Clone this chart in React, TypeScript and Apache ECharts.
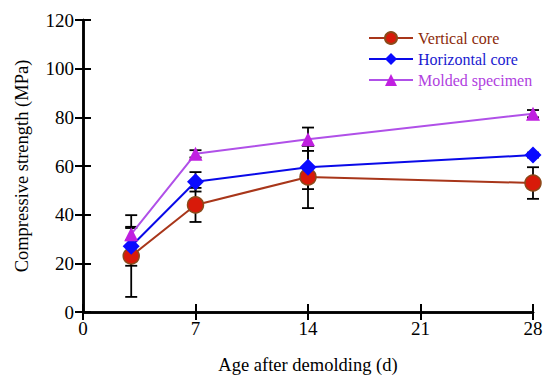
import React, { useEffect, useRef } from "react";
import * as echarts from "echarts";

const days = [3, 7, 14, 28];
const verticalCore = [23, 44, 55.5, 53];
const verticalErr = [16.8, 7, 12.8, 6.5];
const horizontalCore = [27, 53.5, 59.5, 64.5];
const horizontalErr = [8, 4, 9, 1];
const moldedSpecimen = [32, 65, 71, 81.5];
const moldedErr = [2.5, 1.5, 4.8, 1.5];
const xTicks = [0, 7, 14, 21, 28];

const FONT = "Liberation Serif";

function errData(vals: number[], errs: number[]) {
  return days.map((d, i) => [d, vals[i] - errs[i], vals[i] + errs[i]]);
}

const errRender = (params: any, api: any) => {
  const x = api.value(0);
  const lo = api.coord([x, api.value(1)]);
  const hi = api.coord([x, api.value(2)]);
  const hw = 6;
  const style = { stroke: "#000", lineWidth: 1.8 };
  return {
    type: "group",
    children: [
      { type: "line", shape: { x1: lo[0], y1: lo[1], x2: hi[0], y2: hi[1] }, style },
      { type: "line", shape: { x1: lo[0] - hw, y1: lo[1], x2: lo[0] + hw, y2: lo[1] }, style },
      { type: "line", shape: { x1: hi[0] - hw, y1: hi[1], x2: hi[0] + hw, y2: hi[1] }, style },
    ],
  };
};

export default function App() {
  const ref = useRef<HTMLDivElement>(null);
  useEffect(() => {
    if (!ref.current) return;
    const chart = echarts.init(ref.current, null, { renderer: "svg" });
    const axisLine = { show: true, lineStyle: { color: "#000", width: 2.5 } };
    const tickStyle = { show: true, inside: true, length: 8, lineStyle: { color: "#000", width: 2 } };
    chart.setOption({
      animation: false,
      backgroundColor: "#fff",
      grid: { left: 83, right: 17, top: 20, bottom: 69, containLabel: false },
      legend: {
        left: 363,
        top: 25,
        orient: "vertical",
        itemWidth: 44,
        itemHeight: 15,
        itemGap: 5,
        textStyle: { fontFamily: FONT, fontSize: 16 },
        data: [
          { name: "Vertical core", textStyle: { color: "#8b2a0a" } },
          { name: "Horizontal core", textStyle: { color: "#1a1ad0" } },
          { name: "Molded specimen", textStyle: { color: "#b040e0" } },
        ],
      },
      xAxis: [
        {
          type: "value",
          min: 0,
          max: 28,
          interval: 7,
          name: "Age after demolding (d)",
          nameLocation: "middle",
          nameGap: 43,
          nameTextStyle: { fontFamily: FONT, fontSize: 18.5, color: "#000" },
          axisLine,
          axisTick: tickStyle,
          splitLine: { show: false },
          axisLabel: { fontFamily: FONT, fontSize: 19, color: "#000", margin: 7,
            formatter: (v: number) => (xTicks.includes(v) ? String(v) : "") },
        },
        {
          type: "value",
          position: "top",
          min: 0,
          max: 28,
          interval: 7,
          axisLine,
          axisTick: tickStyle,
          axisLabel: { show: false },
          splitLine: { show: false },
        },
      ],
      yAxis: [
        {
          type: "value",
          min: 0,
          max: 120,
          interval: 20,
          name: "Compressive strength (MPa)",
          nameLocation: "middle",
          nameGap: 52,
          nameTextStyle: { fontFamily: FONT, fontSize: 18.5, color: "#000" },
          axisLine,
          axisTick: tickStyle,
          splitLine: { show: false },
          axisLabel: { fontFamily: FONT, fontSize: 19, color: "#000", margin: 9 },
        },
        {
          type: "value",
          position: "right",
          min: 0,
          max: 120,
          interval: 20,
          axisLine,
          axisTick: tickStyle,
          axisLabel: { show: false },
          splitLine: { show: false },
        },
      ],
      series: [
        {
          type: "custom",
          name: "errV",
          renderItem: errRender,
          data: errData(verticalCore, verticalErr),
          encode: { x: 0, y: [1, 2] },
          z: 1,
          silent: true,
        },
        {
          type: "custom",
          name: "errH",
          renderItem: errRender,
          data: errData(horizontalCore, horizontalErr),
          encode: { x: 0, y: [1, 2] },
          z: 1,
          silent: true,
        },
        {
          type: "custom",
          name: "errM",
          renderItem: errRender,
          data: errData(moldedSpecimen, moldedErr),
          encode: { x: 0, y: [1, 2] },
          z: 1,
          silent: true,
        },
        {
          type: "line",
          name: "Vertical core",
          data: days.map((d, i) => [d, verticalCore[i]]),
          symbol: "circle",
          symbolSize: 16,
          lineStyle: { color: "#a8361a", width: 2 },
          itemStyle: { color: "#d81a0a", borderColor: "#8b4a1a", borderWidth: 1.5 },
          z: 3,
        },
        {
          type: "line",
          name: "Horizontal core",
          data: days.map((d, i) => [d, horizontalCore[i]]),
          symbol: "diamond",
          symbolSize: 17,
          lineStyle: { color: "#0a0ae8", width: 2 },
          itemStyle: { color: "#0a0aff", borderWidth: 0 },
          z: 3,
        },
        {
          type: "line",
          name: "Molded specimen",
          data: days.map((d, i) => [d, moldedSpecimen[i]]),
          symbol: "triangle",
          symbolSize: 14,
          lineStyle: { color: "#b050e8", width: 2 },
          itemStyle: { color: "#c020e0", borderWidth: 0 },
          z: 3,
        },
      ],
    });
    return () => chart.dispose();
  }, []);
  return <div ref={ref} style={{ width: 550, height: 381, position: "absolute", left: 0, top: 0 }} />;
}
